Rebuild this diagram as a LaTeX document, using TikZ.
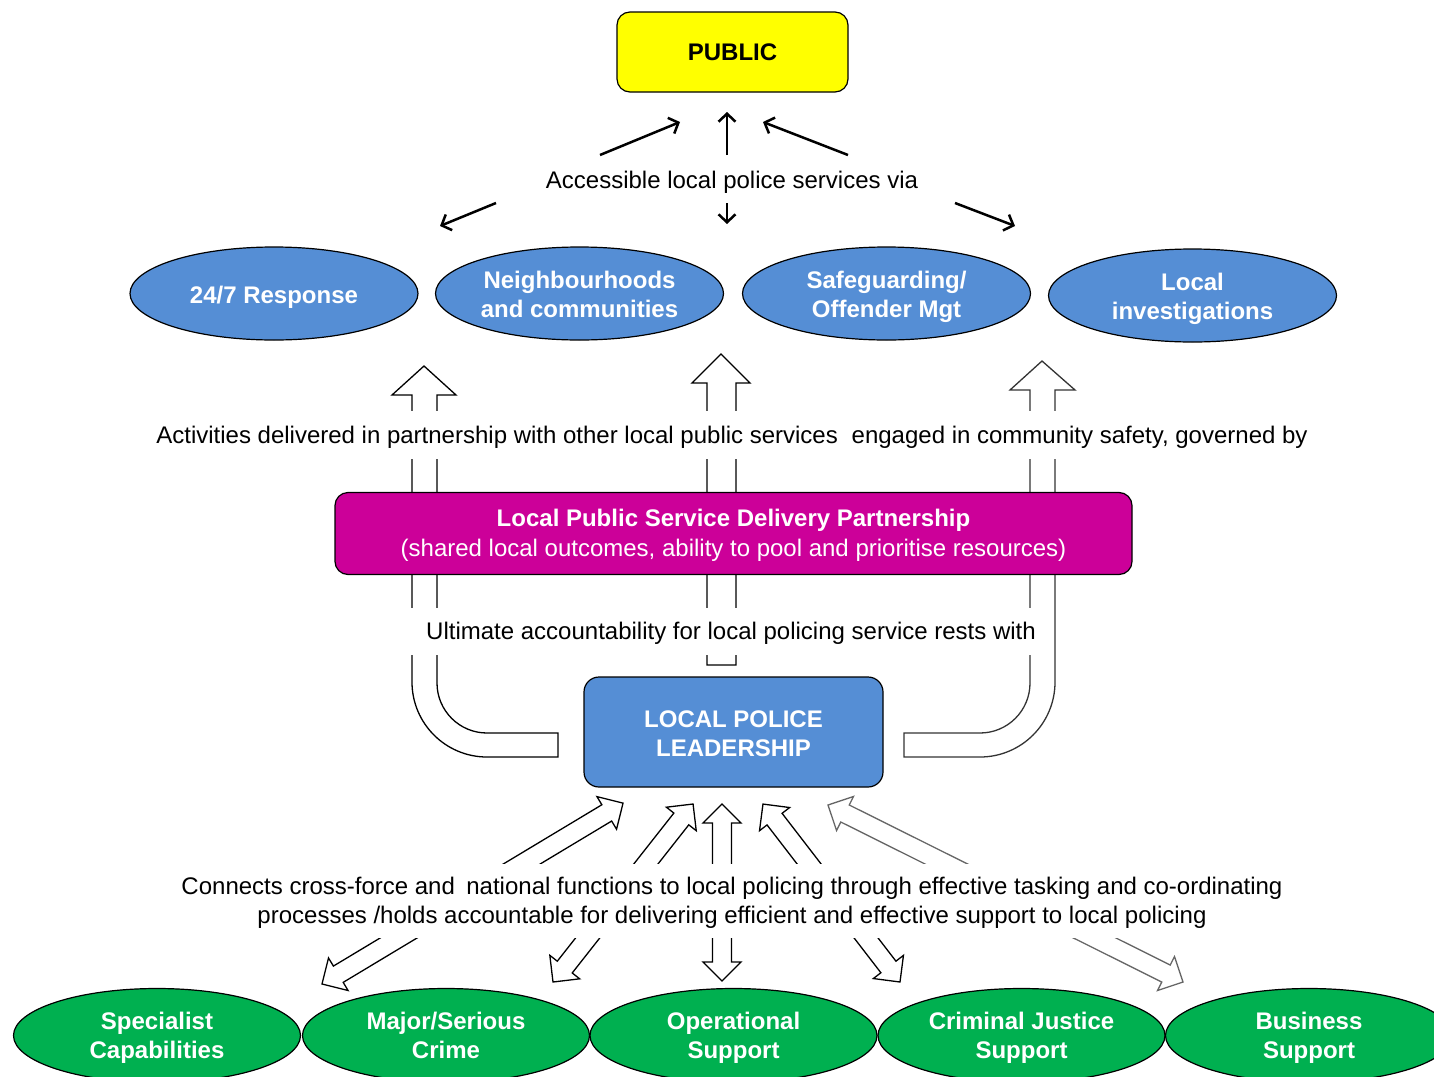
\documentclass[tikz,border=0pt]{standalone}
\usepackage{fontspec}
\setmainfont{Liberation Sans}
\usetikzlibrary{shapes.geometric,arrows.meta}
\definecolor{pblue}{RGB}{85,142,213}
\definecolor{pmag}{RGB}{204,0,153}
\definecolor{pgreen}{RGB}{0,176,80}
\definecolor{pyel}{RGB}{255,255,0}
\newcommand\dblarrow[5]{% x, y, angle, length, colour
  \begin{scope}[shift={(#1,#2)},rotate=#3]
    \draw[blockarr,draw=#5] (0,0) -- (19,19) -- (19,9.5) -- (#4-19,9.5) -- (#4-19,19) -- (#4,0)
      -- (#4-19,-19) -- (#4-19,-9.5) -- (19,-9.5) -- (19,-19) -- cycle;
  \end{scope}}
\begin{document}
\begin{tikzpicture}[x=1pt,y=-1pt,
  txt/.style={font=\fontsize{24}{29}\selectfont},
  oneline/.style={text height=16pt,text depth=0pt},
  twoline/.style={text height=45pt,text depth=0pt},
  masklbl/.style={txt,oneline,fill=white,inner xsep=4pt,inner ysep=0pt},
  blueell/.style={ellipse,draw=black,line width=1.2pt,fill=pblue,text=white,
    font=\bfseries\fontsize{24}{29}\selectfont,minimum width=288pt,minimum height=93pt,
    align=center,inner sep=0pt},
  greenell/.style={ellipse,draw=black,line width=1.2pt,fill=pgreen,text=white,twoline,
    font=\bfseries\fontsize{24}{29}\selectfont,minimum width=287pt,minimum height=94pt,
    align=center,inner sep=0pt},
  rbox/.style={draw=black,line width=1.2pt,rounded corners=13pt,align=center,inner sep=0pt},
  thinarr/.style={line width=2.5pt,-{Straight Barb[length=8pt,width=17pt]}},
  blockarr/.style={draw=black,fill=white,line width=1.3pt,line join=miter}
]
\useasboundingbox (0,0) rectangle (1434,1076);

% ---------- top ----------
\node[rbox,fill=pyel,oneline,minimum width=231pt,minimum height=80pt,
  font=\bfseries\fontsize{24}{29}\selectfont] (pub) at (732.5,52) {PUBLIC};

\node[txt,oneline] (acc) at (732,180.5) {Accessible local police services via};

\coordinate (u1s) at (600,155); \coordinate (u1e) at (680,122);
\coordinate (u2s) at (727,155); \coordinate (u2e) at (727,112);
\coordinate (u3s) at (848,155); \coordinate (u3e) at (763,122);
\coordinate (d1s) at (496,203); \coordinate (d1e) at (440,226);
\coordinate (d2s) at (727,203); \coordinate (d2e) at (727,224);
\coordinate (d3s) at (955,203); \coordinate (d3e) at (1015,226);
\draw[thinarr] (u1s) -- (u1e);
\draw[thinarr] (u2s) -- (u2e);
\draw[thinarr] (u3s) -- (u3e);
\draw[thinarr] (d1s) -- (d1e);
\draw[thinarr] (d2s) -- (d2e);
\draw[thinarr] (d3s) -- (d3e);

\node[blueell,text height=20pt,text depth=0pt] (resp) at (274,293.5) {24/7 Response};
\node[blueell,text height=47pt,text depth=0pt] (neigh) at (579.5,293.5) {Neighbourhoods\\and communities};
\node[blueell,text height=47pt,text depth=0pt] (safe) at (886.5,293.5) {Safeguarding/\\Offender Mgt};
\node[blueell,text height=47pt,text depth=0pt] (inv) at (1192.5,295.5) {Local\\investigations};

% ---------- block arrows up ----------
\draw[blockarr] (558,757) -- (558,733) -- (487,733) arc[start angle=270,end angle=180,radius=50pt]
  -- (437,395) -- (456,395) -- (424,366) -- (392,395) -- (412,395) -- (412,682)
  arc[start angle=180,end angle=270,radius=75pt] -- cycle;
\draw[blockarr] (707,665) -- (707,383) -- (692,383) -- (721,354) -- (750,383) -- (736,383) -- (736,665) -- cycle;
\draw[blockarr,draw=black!80] (904,757) -- (904,733) -- (980,733) arc[start angle=270,end angle=360,radius=50pt]
  -- (1030,390) -- (1010,390) -- (1042,361) -- (1075,390) -- (1055,390) -- (1055,682)
  arc[start angle=0,end angle=-90,radius=75pt] -- cycle;

\node[masklbl,minimum height=48pt] (act) at (732,435)
  {Activities delivered in partnership with other local public services\hspace{0.3em} engaged in community safety, governed by};

\node[rbox,fill=pmag,text=white,text height=46pt,text depth=0pt,minimum width=797pt,minimum height=82pt,
  font=\fontsize{24}{30}\selectfont] (lpsdp) at (733.5,533.5)
  {{\bfseries Local Public Service Delivery Partnership}\\
   (shared local outcomes, ability to pool and prioritise resources)};

\node[masklbl,inner xsep=18pt,minimum height=47pt] (acct) at (731,631)
  {Ultimate accountability for local policing service rests with};

\node[rbox,fill=pblue,text=white,text height=49pt,text depth=0pt,rounded corners=15pt,minimum width=299pt,minimum height=110pt,
  font=\bfseries\fontsize{24}{29}\selectfont] (lpl) at (733.5,732) {LOCAL POLICE\\LEADERSHIP};

% ---------- bottom double arrows ----------
\dblarrow{322}{984}{31.0}{351.2}{black}
\dblarrow{553}{982}{51.8}{226.5}{black}
\dblarrow{722}{981}{90}{177}{black}
\dblarrow{900}{982}{127.6}{224.6}{black}
\dblarrow{1183}{982}{153.5}{396.7}{black!60}

\node[txt,twoline,fill=white,align=center,minimum height=74pt,inner xsep=4pt,inner ysep=2pt] (conn) at (732,900.5)
  {Connects cross-force and\hspace{0.2em} national functions to local policing through effective tasking and co-ordinating\\
   processes /holds accountable for delivering efficient and effective support to local policing};

\node[greenell] (spec) at (157,1035.5) {Specialist\\Capabilities};
\node[greenell] (major) at (446,1035.5) {Major/Serious\\Crime};
\node[greenell] (oper) at (733.5,1035.5) {Operational\\Support};
\node[greenell] (cjs) at (1021.5,1035.5) {Criminal Justice\\Support};
\node[greenell] (bus) at (1309,1035.5) {Business\\Support};
\end{tikzpicture}
\end{document}
